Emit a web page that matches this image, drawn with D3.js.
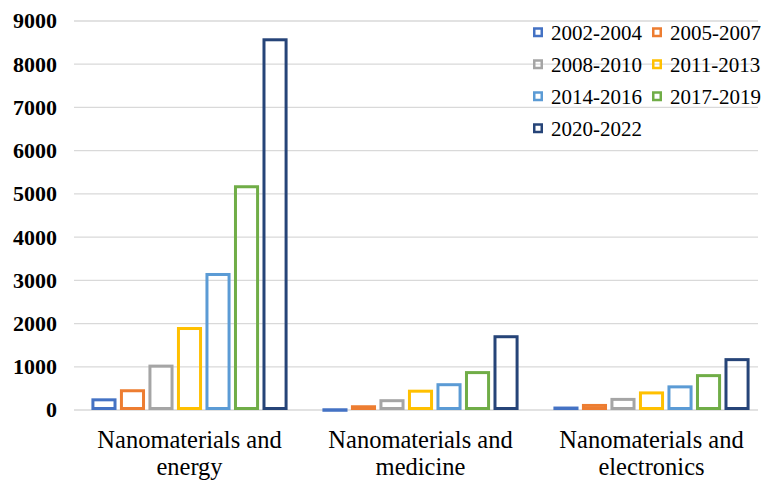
<!DOCTYPE html>
<html><head><meta charset="utf-8">
<script src="https://cdn.jsdelivr.net/npm/d3@7"></script>
</head><body style="margin:0">
<svg id="chart" width="761" height="480" style="display:block" font-family="Liberation Serif"></svg>
<script>
const categories = [["Nanomaterials and","energy"],["Nanomaterials and","medicine"],["Nanomaterials and","electronics"]];
const periods = ["2002-2004","2005-2007","2008-2010","2011-2013","2014-2016","2017-2019","2020-2022"];
const colors = ["#4472C4","#ED7D31","#A5A5A5","#FFC000","#5B9BD5","#70AD47","#264478"];
const energy = [270, 480, 1050, 1920, 3170, 5200, 8600];
const medicine = [40, 110, 250, 470, 620, 900, 1730];
const electronics = [80, 140, 280, 430, 570, 830, 1200];
const yTicks = [0,1000,2000,3000,4000,5000,6000,7000,8000,9000];
const seriesByCat = [energy, medicine, electronics];

const FONT = "Liberation Serif";
const svg = d3.select("#chart");
const y = d3.scaleLinear().domain([0, 9000]).range([410, 21]);
const x0 = d3.scaleBand().domain(d3.range(3)).range([74, 767]).paddingInner(0).paddingOuter(0);
const x1 = d3.scaleBand().domain(d3.range(7)).range([14, 217]).padding(0.12);

// gridlines
svg.append("g").selectAll("line").data(yTicks).join("line")
  .attr("x1", 74).attr("x2", 758)
  .attr("y1", d => y(d)).attr("y2", d => y(d))
  .attr("stroke", "#d9d9d9").attr("stroke-width", 1.3);

// y axis labels
svg.append("g").selectAll("text").data(yTicks).join("text")
  .attr("x", 57).attr("y", d => y(d)).attr("dy", "0.34em")
  .attr("text-anchor", "end")
  .attr("font-family", FONT).attr("font-size", 22).attr("font-weight", "bold").attr("fill", "#000")
  .text(d3.format("d"));

// bars
const sw = 3;
const groups = svg.append("g").selectAll("g").data(seriesByCat).join("g")
  .attr("transform", (d, i) => `translate(${x0(i)},0)`);
groups.selectAll("rect").data(d => d).join("rect")
  .attr("x", (d, j) => x1(j) + sw / 2)
  .attr("width", x1.bandwidth() - sw)
  .attr("y", d => y(d) + sw / 2)
  .attr("height", d => Math.max(0.5, y(0) - y(d) - sw))
  .attr("fill", "none")
  .attr("stroke", (d, j) => colors[j])
  .attr("stroke-width", sw);

// category labels
const cl = svg.append("g").selectAll("text").data(categories).join("text")
  .attr("x", (d, i) => x0(i) + x0.bandwidth() / 2)
  .attr("y", 448)
  .attr("text-anchor", "middle")
  .attr("font-family", FONT)
  .attr("font-size", 24.5).attr("fill", "#000");
cl.selectAll("tspan").data(d => d).join("tspan")
  .attr("x", function() { return d3.select(this.parentNode).attr("x"); })
  .attr("dy", (d, k) => k === 0 ? 0 : 27)
  .text(d => d);

// legend
const leg = svg.append("g").selectAll("g").data(periods).join("g")
  .attr("transform", (d, i) => `translate(${i % 2 === 0 ? 533 : 652},${33 + Math.floor(i / 2) * 32})`);
leg.append("rect").attr("x", 1.25).attr("y", -4.5).attr("width", 7.5).attr("height", 7.5)
  .attr("fill", "none").attr("stroke", (d, i) => colors[i]).attr("stroke-width", 2.5);
leg.append("text").attr("x", 18).attr("y", 0).attr("dy", "0.35em")
  .attr("font-family", FONT)
  .attr("font-size", 21).attr("fill", "#000").text(d => d);
</script>
</body></html>
